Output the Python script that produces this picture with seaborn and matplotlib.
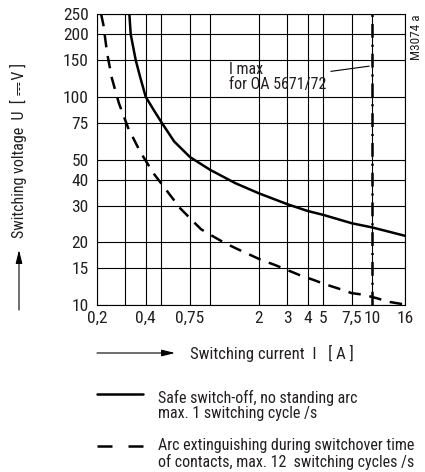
import matplotlib
matplotlib.use("Agg")
import matplotlib.pyplot as plt
from matplotlib.lines import Line2D
from matplotlib.ticker import FixedLocator, FixedFormatter, NullLocator
import seaborn as sns

# curves (current in A, voltage in V DC)
safe_current = [0.317, 0.323, 0.347, 0.369, 0.4, 0.45, 0.503, 0.6, 0.75, 1.0, 1.43, 2, 3, 4, 5, 7.5, 10, 16]
safe_voltage = [250, 200, 150, 125, 100, 86, 75, 61, 51.4, 44.6, 38.5, 34.4, 30.5, 28.3, 27.1, 24.7, 23.6, 21.5]
arc_current = [0.212, 0.219, 0.231, 0.247, 0.273, 0.312, 0.369, 0.446, 0.652, 0.77, 0.88, 1.05, 1.24,
               1.49, 1.77, 2.07, 2.5, 3.59, 4.35, 5.1, 6.2, 7.5, 8.9, 10.8, 12.6, 16]
arc_voltage = [250, 222, 162, 123, 93.3, 70.7, 54.6, 43, 29.2, 25.6, 23.1, 21.3, 19.8,
               18.5, 17.4, 16.45, 15.6, 13.9, 13.2, 12.6, 12.0, 11.4, 11.2, 10.76, 10.37, 10.05]
imax_current = 10

x_ticks = [0.2, 0.3, 0.4, 0.5, 0.75, 1, 2, 3, 4, 5, 7.5, 10, 16]
x_labels = ["0,2", "", "0,4", "", "0,75", "", "2", "3", "4", "5", "7,5", "10", "16"]
y_ticks = [10, 15, 20, 30, 40, 50, 75, 100, 150, 200, 250]
y_labels = ["10", "15", "20", "30", "40", "50", "75", "100", "150", "200", "250"]

sns.set_style("white")
plt.rcParams["font.family"] = ["Roboto Condensed", "Unifont", "DejaVu Sans"]
txt = "#231f20"

W, H = 425, 472
fig = plt.figure(figsize=(W / 100, H / 100), dpi=100)
ax = fig.add_axes([97 / W, 1 - 305 / H, 308 / W, 291 / H])
ax.set_xscale("log")
ax.set_yscale("log")

sns.lineplot(x=safe_current, y=safe_voltage, ax=ax, color="black", lw=1.8,
             sort=False, estimator=None)
sns.lineplot(x=arc_current, y=arc_voltage, ax=ax, color="black", lw=1.8,
             sort=False, estimator=None)
ax.lines[-1].set_linestyle((0, (5, 3.5)))
ax.axvline(imax_current, color="black", lw=1.8, linestyle=(0, (5.5, 2.8, 0.8, 2.8)), zorder=5)

ax.set_xlim(0.2, 16)
ax.set_ylim(10, 250)
ax.xaxis.set_major_locator(FixedLocator(x_ticks))
ax.xaxis.set_major_formatter(FixedFormatter(x_labels))
ax.xaxis.set_minor_locator(NullLocator())
ax.yaxis.set_major_locator(FixedLocator(y_ticks))
ax.yaxis.set_major_formatter(FixedFormatter(y_labels))
ax.yaxis.set_minor_locator(NullLocator())
ax.tick_params(axis="both", length=0, labelsize=12.5, colors=txt)
ax.tick_params(axis="x", pad=4)
ax.tick_params(axis="y", pad=6)
ax.grid(True, color="black", lw=0.8)
for sp in ax.spines.values():
    sp.set_color("black")
    sp.set_linewidth(0.8)
ax.set_xlabel("")
ax.set_ylabel("")

# I max annotation
ax.annotate("", xy=(imax_current, 141), xytext=(5.36, 132),
            arrowprops=dict(arrowstyle="-", color="black", lw=0.8))
ax.text(1.31, 125, "I max\nfor OA 5671/72", fontsize=11.5, va="center", ha="left",
        linespacing=1.0, color=txt)

# side texts
fig.text(416 / W, 1 - 37 / H, "M3074 a", rotation=90, fontsize=9.5, ha="center", va="center",
         color=txt)
fig.text(18 / W, 1 - 150 / H, "Switching voltage  U  [ \u2393V ]", rotation=90, fontsize=11.5,
         ha="center", va="center", color=txt)
ax.annotate("", xy=(19, H - 250), xycoords="figure pixels", xytext=(19, H - 310),
            textcoords="figure pixels",
            arrowprops=dict(arrowstyle="-|>,head_length=0.8,head_width=0.2", color="black",
                            lw=0.8, mutation_scale=10, shrinkA=0, shrinkB=0))
ax.annotate("", xy=(175, H - 353), xycoords="figure pixels", xytext=(97, H - 353),
            textcoords="figure pixels",
            arrowprops=dict(arrowstyle="-|>,head_length=0.8,head_width=0.2", color="black",
                            lw=0.8, mutation_scale=10, shrinkA=0, shrinkB=0))
fig.text(190 / W, 1 - 353 / H, "Switching current  I   [ A ]", fontsize=12, va="center",
         ha="left", color=txt)

# legend keys
fig.add_artist(Line2D([97 / W, 143 / W], [1 - 394 / H] * 2, transform=fig.transFigure,
                      color="black", lw=1.8))
fig.add_artist(Line2D([97 / W, 143 / W], [1 - 446 / H] * 2, transform=fig.transFigure,
                      color="black", lw=1.8, linestyle=(0, (6, 6.4))))
fig.text(158 / W, 1 - 405 / H, "Safe switch-off, no standing arc\nmax. 1 switching cycle /s",
         fontsize=11.5, va="center", ha="left", linespacing=1.0, color=txt)
fig.text(158 / W, 1 - 454 / H,
         "Arc extinguishing during switchover time\nof contacts, max. 12  switching cycles /s",
         fontsize=11.5, va="center", ha="left", linespacing=1.0, color=txt)

fig.savefig("out.png", dpi=100)
